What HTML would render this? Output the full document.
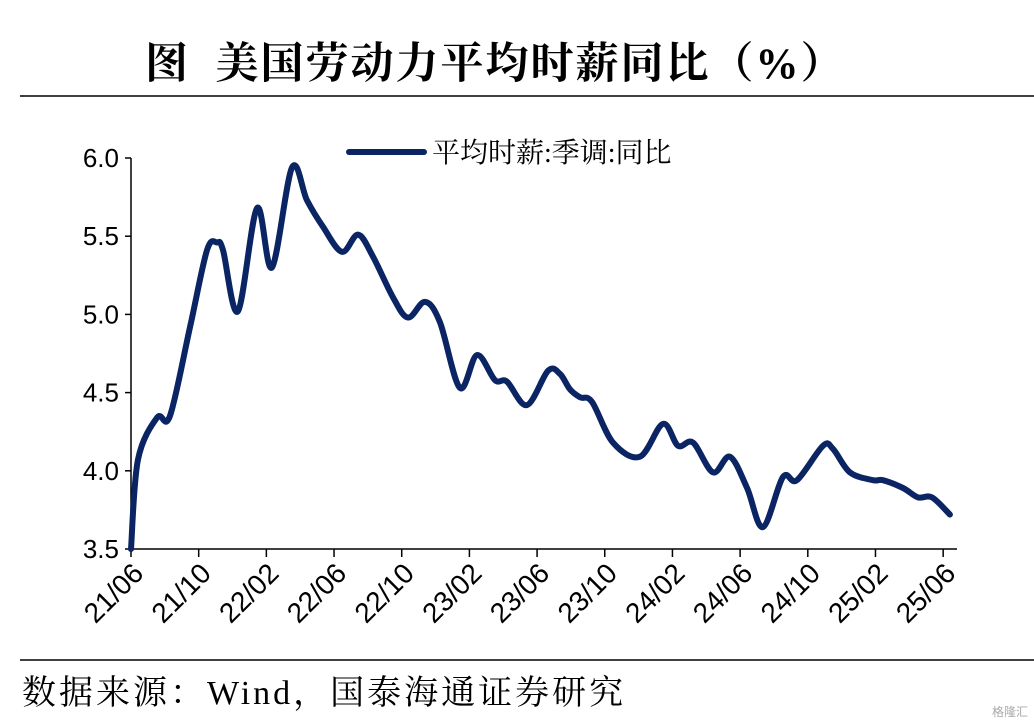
<!DOCTYPE html>
<html><head><meta charset="utf-8"><style>
body{margin:0;background:#fff;width:1034px;height:726px;overflow:hidden}
svg{display:block}
</style></head><body>
<svg width="1034" height="726">
<text x="145" y="78" font-family="'Liberation Serif','Noto Serif CJK SC',serif" font-weight="bold" font-size="43" letter-spacing="2" xml:space="preserve">图  美国劳动力平均时薪同比（%）</text>
<line x1="20" y1="96" x2="1034" y2="96" stroke="#000" stroke-width="1.5"/>
<line x1="20" y1="660" x2="1034" y2="660" stroke="#000" stroke-width="1.5"/>
<text x="22" y="704" font-family="'Liberation Serif','Noto Serif CJK SC',serif" font-size="34" letter-spacing="3">数据来源：Wind，国泰海通证券研究</text>
<text x="1028" y="716" text-anchor="end" font-family="'Liberation Sans','Noto Sans CJK SC',sans-serif" font-size="12" fill="#aaa">格隆汇</text>
<g id="axes"></g>
<g id="plot"></g>
<g>
<line x1="349" y1="152" x2="424" y2="152" stroke="#0b2463" stroke-width="6" stroke-linecap="round"/>
<text x="432" y="162" font-family="'Liberation Serif','Noto Serif CJK SC',serif" font-size="28">平均时薪:季调:同比</text>
</g>
</svg>
<script>
// month offsets from 21/06 (fractional) and YoY values (%)
const monthPos=[0,0.41,1.54,2.30,3.49,4.49,5.08,5.44,6.32,7.45,8.33,9.52,10.40,11.35,12.47,13.42,14.30,15.48,16.37,17.38,18.26,19.44,20.45,21.51,22.22,23.40,24.65,25.35,25.95,26.54,27.25,28.49,30.08,31.44,32.33,33.22,34.40,35.40,36.41,37.35,38.53,39.36,40.90,41.49,42.49,43.85,44.44,45.63,46.51,47.34,48.40];
const values=[3.5,4.07,4.34,4.35,4.92,5.41,5.46,5.41,5.02,5.68,5.30,5.94,5.73,5.56,5.40,5.51,5.37,5.11,4.98,5.08,4.95,4.53,4.74,4.58,4.57,4.42,4.64,4.62,4.52,4.47,4.44,4.18,4.09,4.30,4.16,4.18,3.99,4.09,3.89,3.64,3.96,3.94,4.16,4.14,3.99,3.94,3.94,3.89,3.83,3.83,3.72];
const yTicks=[3.5,4.0,4.5,5.0,5.5,6.0];
const xTickLabels=["21/06","21/10","22/02","22/06","22/10","23/02","23/06","23/10","24/02","24/06","24/10","25/02","25/06"];
const xTickMonths=[0,4,8,12,16,20,24,28,32,36,40,44,48];

const NS="http://www.w3.org/2000/svg";
const X0=131,PX=16.92,Y0=158,YS=156.4;
const xs=m=>X0+m*PX, ys=v=>Y0+(6-v)*YS;
const ax=document.getElementById('axes'), pl=document.getElementById('plot');
function mk(t,a,p){const e=document.createElementNS(NS,t);for(const k in a)e.setAttribute(k,a[k]);p.appendChild(e);return e;}
let e=mk('line',{x1:X0,y1:ys(6),x2:X0,y2:ys(3.5),stroke:'#000','stroke-width':1.5},ax);


e=mk('line',{x1:X0,y1:ys(3.5),x2:957,y2:ys(3.5),stroke:'#000','stroke-width':1.5},ax);


yTicks.forEach(v=>{
 mk('line',{x1:X0-6,y1:ys(v),x2:X0,y2:ys(v),stroke:'#000','stroke-width':1.5},ax);
 const t=mk('text',{x:X0-12,y:ys(v)+9,'text-anchor':'end','font-family':'Liberation Sans,sans-serif','font-size':26},ax);
 t.textContent=v.toFixed(1);
 
 
});
xTickMonths.forEach((m,i)=>{
 const x=xs(m),y=ys(3.5);
 mk('line',{x1:x,y1:y,x2:x,y2:y+8,stroke:'#000','stroke-width':1.5},ax);
 const t=mk('text',{x:x+14,y:y+26,'text-anchor':'end','font-family':'Liberation Sans,sans-serif','font-size':28,transform:`rotate(-45 ${x+14} ${y+26})`},ax);
 t.textContent=xTickLabels[i];
 
 
});
const pts=monthPos.map((m,i)=>[xs(m),ys(values[i])]).sort((a,b)=>a[0]-b[0]);
let d=`M${pts[0][0]},${pts[0][1]}`;
for(let i=0;i<pts.length-1;i++){
 const p0=pts[Math.max(0,i-1)],p1=pts[i],p2=pts[i+1],p3=pts[Math.min(pts.length-1,i+2)];
 const c1=[p1[0]+(p2[0]-p0[0])/6,p1[1]+(p2[1]-p0[1])/6],c2=[p2[0]-(p3[0]-p1[0])/6,p2[1]-(p3[1]-p1[1])/6];
 d+=`C${c1[0]},${c1[1]} ${c2[0]},${c2[1]} ${p2[0]},${p2[1]}`;
}
const path=mk('path',{d:d,fill:'none',stroke:'#0b2463','stroke-width':6,'stroke-linejoin':'round','stroke-linecap':'round'},pl);


</script>
</body></html>
